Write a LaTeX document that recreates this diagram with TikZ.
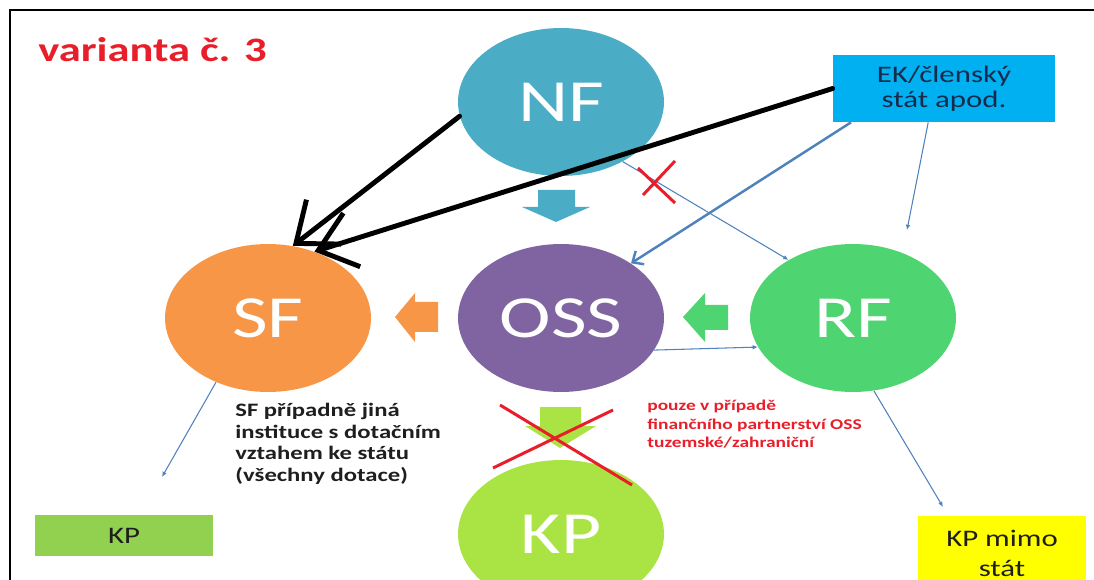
\documentclass[tikz,border=0pt]{standalone}
\usepackage{fontspec}
\setmainfont{Carlito}[FakeStretch=1.3]
\usetikzlibrary{arrows.meta,shapes.geometric}
\definecolor{nfblue}{RGB}{75,172,198}
\definecolor{osspurple}{RGB}{128,100,162}
\definecolor{sforange}{RGB}{247,150,70}
\definecolor{rfgreen}{RGB}{78,212,112}
\definecolor{kplime}{RGB}{170,228,68}
\definecolor{ekcyan}{RGB}{0,176,240}
\definecolor{kpgreen}{RGB}{146,208,80}
\definecolor{kpyellow}{RGB}{255,255,0}
\definecolor{linkblue}{RGB}{79,129,189}
\definecolor{notered}{RGB}{232,30,42}
\definecolor{inkdark}{RGB}{30,30,30}
\begin{document}
\begin{tikzpicture}[x=0.02cm,y=-0.02cm,
  fund/.style={ellipse,minimum width=4.12cm,minimum height=2.96cm,inner sep=0pt,
    text=white,font=\fontsize{34}{40}\selectfont},
  box/.style={rectangle,inner sep=0pt,text=inkdark},
  thinarr/.style={draw=linkblue,line width=0.6pt,-{Latex[length=3pt,width=2.6pt]}},
  marker/.style={draw=black,line width=2.8pt,line cap=round,
    -{Straight Barb[length=20pt,width=32pt]}},
  cross/.style={draw=notered,line width=1.7pt}]
\clip (0,0) rectangle (1094,580);
\draw[line width=0.9pt] (10,580) -- (10,10) -- (1094,10);
\node[anchor=west,inner sep=0pt,text=notered,font=\bfseries\fontsize{19.5}{22}\selectfont] (title) at (38,50) {varianta č. 3};
\node[fund,fill=nfblue] (nf) at (561,102) {NF};
\node[fund,fill=osspurple] (oss) at (561,318) {OSS};
\node[fund,fill=sforange] (sf) at (268,318) {SF};
\node[fund,fill=rfgreen] (rf) at (853,318) {RF};
\node[fund,fill=kplime] (kp) at (561,534) {KP};
\node[box,fill=ekcyan,minimum width=4.44cm,minimum height=1.34cm,align=center,
  text={rgb,255:red,23;green,43;blue,77},font=\fontsize{13.5}{14.5}\selectfont] (ek) at (944,88.5) {EK/členský\\stát apod.};
\node[box,fill=kpgreen,minimum width=3.56cm,minimum height=0.82cm,
  font=\fontsize{13.5}{15}\selectfont] (kpa) at (124,535.5) {KP};
\node[box,fill=kpyellow,minimum width=3.36cm,minimum height=1.5cm,align=center,
  font=\fontsize{13.5}{17}\selectfont] (kpb) at (1002,553) {KP mimo\\stát};
\node[anchor=north west,inner sep=0pt,align=left,text=inkdark,
  font=\bfseries\fontsize{10.8}{12.3}\selectfont] (sfnote) at (235,403)
  {SF případně jiná\\instituce s dotačním\\vztahem ke státu\\(všechny dotace)};
\node[anchor=north west,inner sep=0pt,align=left,text=notered,
  font=\bfseries\fontsize{8.5}{10.5}\selectfont] (ossnote) at (647,400)
  {pouze v případě\\finančního partnerství OSS\\tuzemské/zahraniční};
\coordinate (rfin) at (907,230);
\coordinate (kpain) at (162,477);
\coordinate (kpbin) at (943,507);
\fill[nfblue] (538,190) -- (575,190) -- (575,207) -- (590,207) -- (556,222) -- (522,207) -- (538,207) -- cycle;
\fill[sforange] (438,302) -- (415,302) -- (415,293) -- (395,317) -- (415,342) -- (415,332) -- (438,332) -- cycle;
\fill[rfgreen] (728,305) -- (705,305) -- (705,293) -- (683,317) -- (705,342) -- (705,330) -- (728,330) -- cycle;
\fill[kplime] (540,407) -- (581,407) -- (581,426) -- (596,426) -- (560,448) -- (525,426) -- (540,426) -- cycle;
\draw[thinarr] (nf.-44) -- (rf.138);
\draw[thinarr] (ek.245) -- (rfin);
\draw[thinarr] (oss.-19) -- (rf.197);
\draw[thinarr] (sf.231) -- (kpain);
\draw[thinarr] (rf.-74) -- (kpbin);
\draw[draw=linkblue,line width=1.4pt,-{Straight Barb[length=5pt,width=9pt]}] (ek.200) -- (oss.38);
\draw[cross] (638,168) -- (675,203) (675,161) -- (643,195);
\draw[cross] (500,405) -- (632,485) (493,468) -- (613,410);
\draw[marker] (nf.188) -- (sf.71);
\draw[marker] (ek.west) -- (sf.55);
\end{tikzpicture}
\end{document}
